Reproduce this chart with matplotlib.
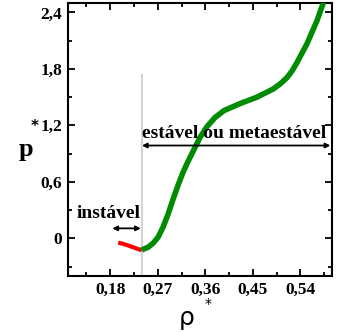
import matplotlib
matplotlib.use("Agg")
import matplotlib.pyplot as plt
from matplotlib.ticker import FixedLocator

plt.rcParams['font.family'] = ['Liberation Serif', 'DejaVu Serif']
plt.rcParams['font.weight'] = 'bold'

# unstable branch (red) and stable/metastable branch (green)
red_rho = [0.195, 0.205, 0.215, 0.225, 0.2395]
red_p = [-0.045, -0.060, -0.078, -0.098, -0.127]

green_rho = [0.2395, 0.2420, 0.2515, 0.2610, 0.2705, 0.2799, 0.2894, 0.2989, 0.3083,
             0.3178, 0.3273, 0.3386, 0.3500, 0.3633, 0.3784, 0.3955, 0.4258,
             0.4580, 0.4883, 0.5015, 0.5148, 0.5242, 0.5337, 0.5527, 0.5716,
             0.5830, 0.5860]
green_p = [-0.127, -0.117, -0.095, -0.053, 0.011, 0.117, 0.254, 0.413, 0.562,
           0.700, 0.816, 0.943, 1.071, 1.187, 1.283, 1.357, 1.431,
           1.500, 1.585, 1.638, 1.707, 1.776, 1.866, 2.067, 2.311,
           2.491, 2.54]

spinodal_rho = 0.2395

x_major = [0.18, 0.27, 0.36, 0.45, 0.54]
x_labels = ['0,18', '0,27', '0,36', '0,45', '0,54']
x_minor = [0.135, 0.225, 0.315, 0.405, 0.495, 0.585]
y_major = [0, 0.6, 1.2, 1.8, 2.4]
y_labels = ['0', '0,6', '1,2', '1,8', '2,4']
y_minor = [-0.3, 0.3, 0.9, 1.5, 2.1]

fig = plt.figure(figsize=(3.37, 3.32), dpi=100)
ax = fig.add_axes([0.2018, 0.1687, 0.7832, 0.8223])

ax.plot([spinodal_rho, spinodal_rho], [-0.4, 1.73], color='#d3d3d3', lw=1.5, zorder=1)
ax.plot(red_rho, red_p, color='#ff0000', lw=3, solid_capstyle='butt', zorder=3)
ax.plot(green_rho, green_p, color='#008c00', lw=4, solid_capstyle='butt',
        solid_joinstyle='round', zorder=3)

ax.set_xlim(0.10, 0.60)
ax.set_ylim(-0.40, 2.50)

ax.xaxis.set_major_locator(FixedLocator(x_major))
ax.xaxis.set_minor_locator(FixedLocator(x_minor))
ax.yaxis.set_major_locator(FixedLocator(y_major))
ax.yaxis.set_minor_locator(FixedLocator(y_minor))
ax.set_xticklabels(x_labels)
ax.set_yticklabels(y_labels)
ax.tick_params(which='both', direction='in', top=True, right=True, width=1.3,
               labelsize=12.5, pad=4)
ax.tick_params(which='major', length=5)
ax.tick_params(which='minor', length=3)
for s in ax.spines.values():
    s.set_linewidth(1.5)

# arrows and region labels
ax.annotate('', xy=(0.184, 0.106), xytext=(0.238, 0.106),
            arrowprops=dict(arrowstyle='<|-|>', color='black', lw=1.3,
                            mutation_scale=7, shrinkA=0, shrinkB=0))
ax.text(0.176, 0.265, 'instável', ha='center', va='center', fontsize=14,
        fontweight='bold')
ax.annotate('', xy=(0.240, 0.986), xytext=(0.597, 0.986),
            arrowprops=dict(arrowstyle='<|-|>', color='black', lw=1.3,
                            mutation_scale=7, shrinkA=0, shrinkB=0))
ax.text(0.4144, 1.115, 'estável ou metaestável', ha='center', va='center',
        fontsize=14, fontweight='bold')

fig.text(0.077, 0.551, 'p', fontsize=19, fontweight='bold', ha='center', va='center')
fig.text(0.103, 0.618, '*', fontsize=11, fontweight='bold', ha='center', va='center',
         family='DejaVu Sans')
fig.text(0.555, 0.042, 'ρ', fontsize=18, fontweight='normal', ha='center', va='center',
         family='DejaVu Sans')
fig.text(0.617, 0.083, '*', fontsize=10, fontweight='normal', ha='center', va='center',
         family='DejaVu Sans')

fig.savefig('out.png', dpi=100)
